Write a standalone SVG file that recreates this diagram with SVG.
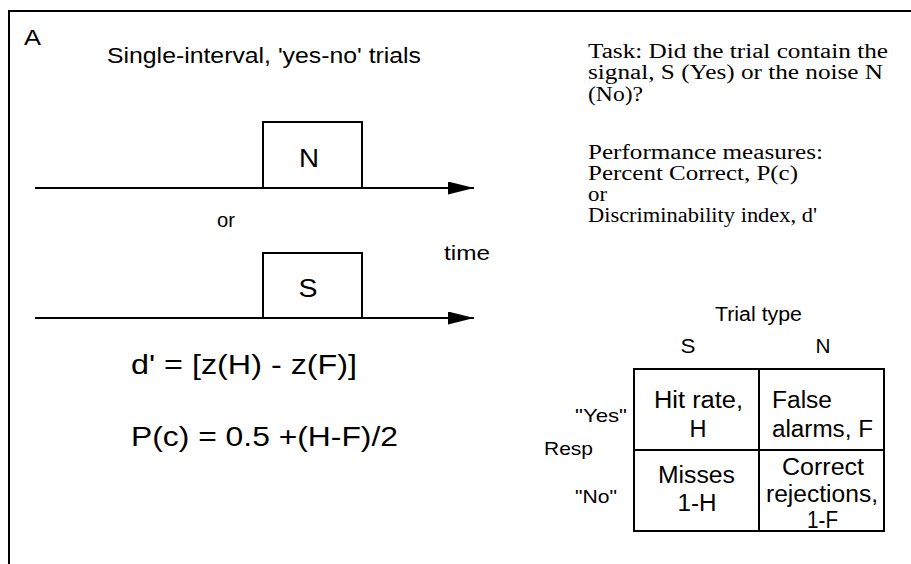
<svg xmlns="http://www.w3.org/2000/svg" width="911" height="564" viewBox="0 0 911 564">
<defs>
<style>
.s{font-family:"Liberation Sans",Arial,sans-serif;fill:#000}
.t{font-family:"Liberation Serif","Times New Roman",serif;fill:#000;font-size:20px}
.ln{stroke:#000;stroke-width:2;fill:none}
.bx{stroke:#000;stroke-width:2;fill:#fff}
.m{text-anchor:middle}
.e{text-anchor:end}
</style>
<marker id="ah" markerWidth="26" markerHeight="13" refX="26" refY="6.5" orient="auto" markerUnits="userSpaceOnUse">
<polygon points="0,0 26,6.5 0,13" fill="#000"/>
</marker>
</defs>
<rect width="911" height="564" fill="#fff"/>
<g id="frame">
<path class="ln" d="M9,564 V11 H911"/>
</g>
<text class="s" x="24" y="45" font-size="22" textLength="17" lengthAdjust="spacingAndGlyphs">A</text>
<text class="s" x="107" y="63" font-size="22" textLength="314" lengthAdjust="spacingAndGlyphs">Single-interval, 'yes-no' trials</text>
<g id="connectors">
<line class="ln" x1="35" y1="188" x2="474" y2="188" marker-end="url(#ah)"/>
<line class="ln" x1="35" y1="318" x2="474" y2="318" marker-end="url(#ah)"/>
</g>
<g id="boxN">
<rect class="bx" x="263" y="122" width="99" height="66"/>
<text class="s m" x="309" y="167" font-size="25" textLength="20" lengthAdjust="spacingAndGlyphs">N</text>
</g>
<g id="boxS">
<rect class="bx" x="263" y="253" width="99" height="65"/>
<text class="s m" x="308" y="297" font-size="25" textLength="19" lengthAdjust="spacingAndGlyphs">S</text>
</g>
<text class="s" x="217" y="227" font-size="20" textLength="18" lengthAdjust="spacingAndGlyphs">or</text>
<text class="s" x="444" y="260" font-size="21" textLength="46" lengthAdjust="spacingAndGlyphs">time</text>
<g id="formulas">
<text class="s" x="131" y="374" font-size="28" textLength="226" lengthAdjust="spacingAndGlyphs">d' = [z(H) - z(F)]</text>
<text class="s" x="131" y="446" font-size="28" textLength="267" lengthAdjust="spacingAndGlyphs">P(c) = 0.5 +(H-F)/2</text>
</g>
<g id="task">
<text class="t" x="588" y="58" textLength="300" lengthAdjust="spacingAndGlyphs">Task: Did the trial contain the</text>
<text class="t" x="588" y="79" textLength="295" lengthAdjust="spacingAndGlyphs">signal, S (Yes) or the noise N</text>
<text class="t" x="588" y="101" textLength="55" lengthAdjust="spacingAndGlyphs">(No)?</text>
<text class="t" x="588" y="159" textLength="235" lengthAdjust="spacingAndGlyphs">Performance measures:</text>
<text class="t" x="588" y="180" textLength="210" lengthAdjust="spacingAndGlyphs">Percent Correct, P(c)</text>
<text class="t" x="588" y="201" textLength="19" lengthAdjust="spacingAndGlyphs">or</text>
<text class="t" x="588" y="222" textLength="229" lengthAdjust="spacingAndGlyphs">Discriminability index, d'</text>
</g>
<g id="table">
<rect class="bx" x="634" y="369" width="250" height="162"/>
<line class="ln" x1="759" y1="369" x2="759" y2="531"/>
<line class="ln" x1="634" y1="450" x2="884" y2="450"/>
<text class="s m" x="758.5" y="321" font-size="20" textLength="87" lengthAdjust="spacingAndGlyphs">Trial type</text>
<text class="s m" x="688" y="353" font-size="20" textLength="15" lengthAdjust="spacingAndGlyphs">S</text>
<text class="s m" x="823" y="353" font-size="20" textLength="15" lengthAdjust="spacingAndGlyphs">N</text>
<text class="s e" x="627" y="422" font-size="19" textLength="52" lengthAdjust="spacingAndGlyphs">"Yes"</text>
<text class="s" x="544" y="455" font-size="19" textLength="49" lengthAdjust="spacingAndGlyphs">Resp</text>
<text class="s e" x="617" y="503" font-size="19" textLength="42" lengthAdjust="spacingAndGlyphs">"No"</text>
<text class="s m" x="698.5" y="408" font-size="23" textLength="89" lengthAdjust="spacingAndGlyphs">Hit rate,</text>
<text class="s m" x="698" y="437" font-size="23" textLength="17" lengthAdjust="spacingAndGlyphs">H</text>
<text class="s" x="772" y="408" font-size="23" textLength="60" lengthAdjust="spacingAndGlyphs">False</text>
<text class="s" x="772" y="437" font-size="23" textLength="101" lengthAdjust="spacingAndGlyphs">alarms, F</text>
<text class="s m" x="696.5" y="483" font-size="23" textLength="77" lengthAdjust="spacingAndGlyphs">Misses</text>
<text class="s m" x="697" y="511" font-size="23" textLength="39" lengthAdjust="spacingAndGlyphs">1-H</text>
<text class="s m" x="823" y="475" font-size="23" textLength="82" lengthAdjust="spacingAndGlyphs">Correct</text>
<text class="s m" x="822" y="502" font-size="23" textLength="112" lengthAdjust="spacingAndGlyphs">rejections,</text>
<text class="s m" x="822.5" y="528" font-size="23" textLength="31" lengthAdjust="spacingAndGlyphs">1-F</text>
</g>
</svg>
